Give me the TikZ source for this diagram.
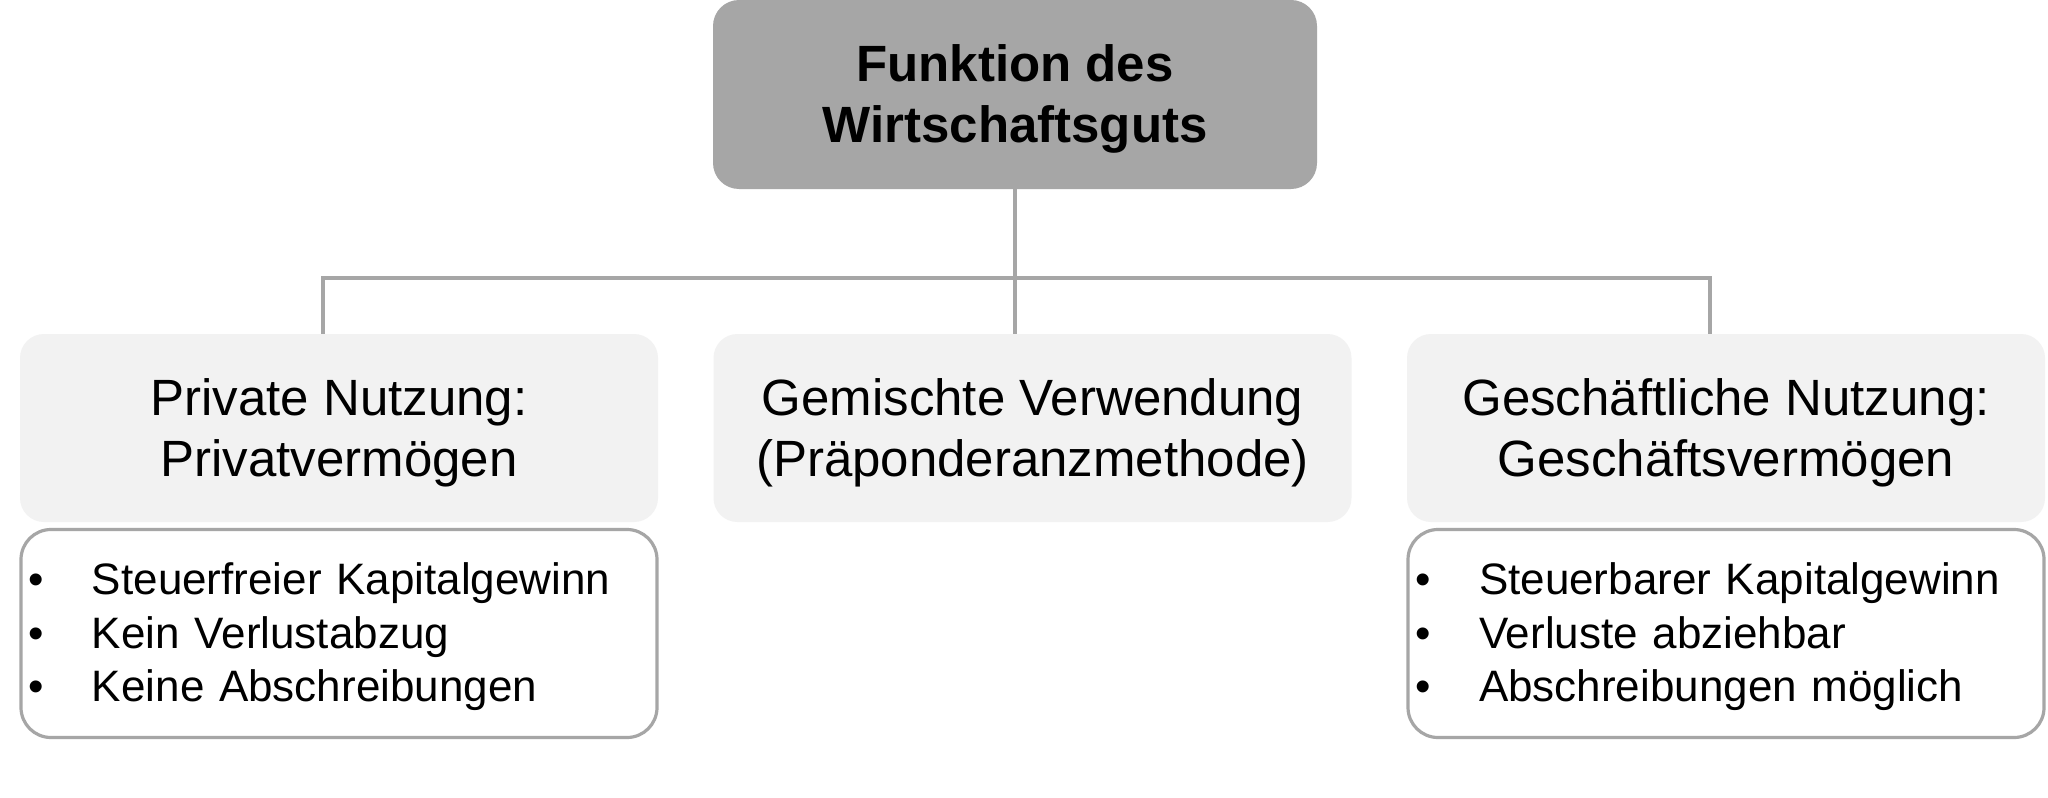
\documentclass[tikz,border=0pt]{standalone}
\usepackage{fontspec}
\setmainfont{Liberation Sans}
\definecolor{topgray}{HTML}{A6A6A6}
\definecolor{boxgray}{HTML}{F2F2F2}
\definecolor{linegray}{HTML}{A6A6A6}
\newcommand{\bul}{\makebox[32pt][l]{•}}
\newcommand{\lowc}[2]{\raisebox{-#1}[\height][\depth]{\begin{tabular}{@{}c@{}}#2\end{tabular}}}
\newcommand{\lowl}[2]{\raisebox{-#1}[\height][\depth]{\begin{tabular}{@{}l@{}}#2\end{tabular}}}
\begin{document}
\begin{tikzpicture}[x=0.5pt,y=-0.5pt,
  headbox/.style={rectangle, rounded corners=13pt, fill=topgray, minimum width=302pt, minimum height=94.5pt, align=center, inner sep=0pt, font=\fontsize{25.5pt}{30.5pt}\selectfont\bfseries},
  childbox/.style={rectangle, rounded corners=12pt, fill=boxgray, minimum width=319pt, minimum height=94pt, align=center, inner sep=0pt, font=\fontsize{25.5pt}{30.5pt}\selectfont},
  listbox/.style={rectangle, rounded corners=15pt, draw=linegray, line width=1.6pt, fill=white, minimum width=318pt, minimum height=104pt, text width=311pt, inner xsep=3.5pt, inner ysep=0pt, align=left, font=\fontsize{22pt}{26.8pt}\selectfont},
  conn/.style={draw=linegray, line width=2pt}]
\useasboundingbox (0,0) rectangle (2048,797);
\fill[white] (0,0) rectangle (2048,797);
\node[headbox] (top) at (1015,94.5) {\lowc{2.5pt}{Funktion des\\Wirtschaftsguts}};
\node[childbox] (left) at (339,428) {\lowc{3pt}{Private Nutzung:\\Privatvermögen}};
\node[childbox] (mid) at (1032.5,428) {\lowc{3pt}{Gemischte Verwendung\\(Präponderanzmethode)}};
\node[childbox] (right) at (1726,428) {\lowc{3pt}{Geschäftliche Nutzung:\\Geschäftsvermögen}};
\node[listbox] (lb) at (339,633.5) {\lowl{2pt}{\bul Steuerfreier Kapitalgewinn\\\bul Kein Verlustabzug\\\bul Keine Abschreibungen}};
\node[listbox] (rb) at (1726,633.5) {\lowl{2pt}{\bul Steuerbarer Kapitalgewinn\\\bul Verluste abziehbar\\\bul Abschreibungen möglich}};
\coordinate (hl) at (323,278);
\coordinate (hr) at (1710,278);
\draw[conn] (top.south) -- (top.south |- mid.north);
\draw[conn] (left.north -| hl) -- (hl) -- (hr) -- (right.north -| hr);
\end{tikzpicture}
\end{document}
